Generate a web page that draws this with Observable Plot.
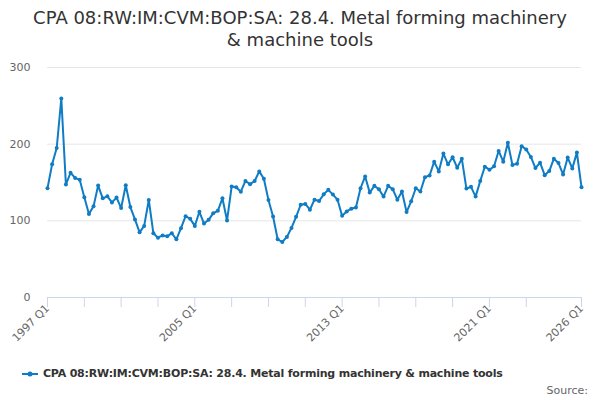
<!DOCTYPE html>
<html><head><meta charset="utf-8">
<script src="https://cdn.jsdelivr.net/npm/d3@7"></script>
<script src="https://cdn.jsdelivr.net/npm/@observablehq/plot@0.6"></script>
<style>
body{margin:0;background:#fff;font-family:"DejaVu Sans",sans-serif;width:600px;height:400px;overflow:hidden}
#title{height:56px;text-align:center;font-size:18px;color:#333;line-height:22px;padding-top:7px;box-sizing:border-box}
#chart{height:300px}
#legend{margin-top:10px;height:16px;line-height:16px;text-align:left;padding-left:22px;font-size:11px;letter-spacing:-0.2px;font-weight:bold;color:#333;white-space:nowrap}
#legend svg{vertical-align:middle;margin-right:5px}
#source{text-align:right;padding-right:12px;font-size:11px;color:#666;line-height:14px;margin-top:2px}
</style></head>
<body>
<div id="title">CPA 08:RW:IM:CVM:BOP:SA: 28.4. Metal forming machinery<br>&amp; machine tools</div>
<div id="chart"></div>
<div id="legend"><svg width="16" height="10"><line x1="0" y1="5" x2="16" y2="5" stroke="#0f7cc4" stroke-width="2"/><circle cx="8" cy="5" r="2.5" fill="#0f7cc4"/></svg><span id="legtext"></span></div>
<div id="source">Source:</div>
<script>
const seriesName = "CPA 08:RW:IM:CVM:BOP:SA: 28.4. Metal forming machinery & machine tools";
const startYear = 1997;
const values = [
 142.5,173.7,195,259.6,147.4,162.7,156,153.5,130.7,108.8,
 118.9,146,129.4,132,124,130.3,116.7,146.5,118,101.8,
 85,93.4,127.2,83.8,78,81,79.8,83.8,75.9,90.4,
 106,102.6,93.4,111.8,96.5,101.3,110,113,129.4,100.4,
 144.7,143.9,138,152,147.8,152,164.5,154.8,127.2,105.7,
 75.9,72.4,79,90.8,105.3,121,122,114.5,127.6,125.9,
 134.6,140.4,134.2,127.6,106.6,112.3,115.8,117.5,142.5,157.9,
 136.8,145.6,141.2,131.6,145.6,141.2,127.6,138.2,111.4,125.4,
 142.5,138.2,157,159.2,177.2,164.5,187.7,173.7,182.9,169.3,
 181.1,142.1,144.3,131.6,151.8,170.6,166.7,171.1,191.2,177.2,
 201.8,172.8,174.6,197.4,193,183.3,168.9,175.9,159.6,164.9,
 181.1,175.4,160.5,182.5,168.4,189,143.9
];
const quarters = values.map((_, i) => `${startYear + Math.floor(i / 4)} Q${(i % 4) + 1}`);
const tickQuarters = ["1997 Q1","1999 Q1","2001 Q1","2003 Q1","2005 Q1","2007 Q1","2009 Q1","2011 Q1","2013 Q1","2015 Q1","2017 Q1","2019 Q1","2021 Q1","2023 Q1","2026 Q1"];
const labelQuarters = ["1997 Q1","2005 Q1","2013 Q1","2021 Q1","2026 Q1"];
const yTicks = [0, 100, 200, 300];
const color = "#0f7cc4";

document.getElementById("legtext").textContent = seriesName;

const data = values.map((v, i) => ({i, q: quarters[i], v}));
const tickIdx = tickQuarters.map(q => quarters.indexOf(q));
const labelIdx = labelQuarters.map(q => quarters.indexOf(q));

const chart = Plot.plot({
  width: 600, height: 300,
  marginTop: 11, marginBottom: 59, marginLeft: 47, marginRight: 19,
  x: {type: "linear", domain: [0, values.length - 1]},
  y: {domain: [0, 300]},
  style: {fontFamily: "DejaVu Sans", fontSize: "11px", color: "#666", background: "#fff"},
  marks: [
    Plot.ruleY(yTicks.filter(t => t > 0), {stroke: "#e6e6e6"}),
    Plot.axisY({ticks: yTicks, tickSize: 0, tickPadding: 17, fill: "#666", label: null}),
    Plot.ruleY([0], {stroke: "#ccd6eb"}),
    Plot.axisX({ticks: tickIdx, tickSize: 10, tickFormat: () => "", stroke: "#ccd6eb", strokeOpacity: 1, label: null}),
    Plot.axisX({ticks: labelIdx, tickSize: 0, tickPadding: 9, tickRotate: -45, tickFormat: i => quarters[i], fill: "#666", label: null}),
    Plot.line(data, {x: "i", y: "v", stroke: color, strokeWidth: 2}),
    Plot.dot(data, {x: "i", y: "v", fill: color, r: 2})
  ]
});
document.getElementById("chart").appendChild(chart);
</script>
</body></html>
